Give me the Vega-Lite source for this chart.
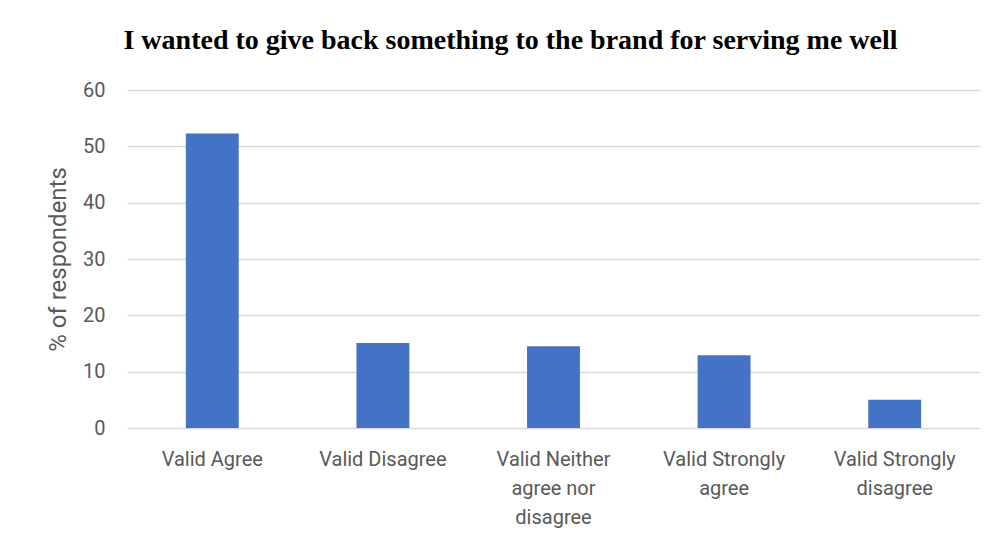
{
  "$schema": "https://vega.github.io/schema/vega-lite/v6.json",
  "width": 853,
  "height": 338,
  "autosize": {"type": "none"},
  "padding": {"left": 127, "top": 90, "right": 18, "bottom": 125},
  "background": "white",
  "title": {
    "text": "I wanted to give back something to the brand for serving me well",
    "font": "Liberation Serif",
    "fontWeight": "bold",
    "fontSize": 28,
    "color": "#000000",
    "anchor": "middle",
    "dx": -43,
    "offset": 25
  },
  "data": {
    "values": [
      {"response": "Valid Agree", "pct": 52.3},
      {"response": "Valid Disagree", "pct": 15.1},
      {"response": "Valid Neither agree nor disagree", "pct": 14.5},
      {"response": "Valid Strongly agree", "pct": 12.9},
      {"response": "Valid Strongly disagree", "pct": 5.0}
    ]
  },
  "mark": {"type": "bar", "color": "#4472C4"},
  "encoding": {
    "x": {
      "field": "response",
      "type": "nominal",
      "sort": null,
      "scale": {"paddingInner": 0.69, "paddingOuter": 0.345},
      "axis": {
        "title": null,
        "labelAngle": 0,
        "domain": false,
        "ticks": false,
        "labelPadding": 21,
        "labelFont": "Roboto",
        "labelFontSize": 20,
        "labelColor": "#595959",
        "labelLineHeight": 29,
        "labelBaseline": "top",
        "labelExpr": "datum.label == 'Valid Neither agree nor disagree' ? ['Valid Neither', 'agree nor', 'disagree'] : datum.label == 'Valid Strongly agree' ? ['Valid Strongly', 'agree'] : datum.label == 'Valid Strongly disagree' ? ['Valid Strongly', 'disagree'] : datum.label"
      }
    },
    "y": {
      "field": "pct",
      "type": "quantitative",
      "scale": {"domain": [0, 60]},
      "axis": {
        "title": "% of respondents",
        "titleFont": "Roboto",
        "titleFontSize": 24,
        "titleFontWeight": "normal",
        "titleColor": "#595959",
        "titlePadding": 12,
        "values": [0, 10, 20, 30, 40, 50, 60],
        "domain": false,
        "ticks": false,
        "labelPadding": 22,
        "labelFont": "Roboto",
        "labelFontSize": 20,
        "labelColor": "#595959",
        "grid": true,
        "gridColor": "#D9D9D9",
        "gridWidth": 1.5
      }
    }
  },
  "config": {"view": {"stroke": null}}
}
